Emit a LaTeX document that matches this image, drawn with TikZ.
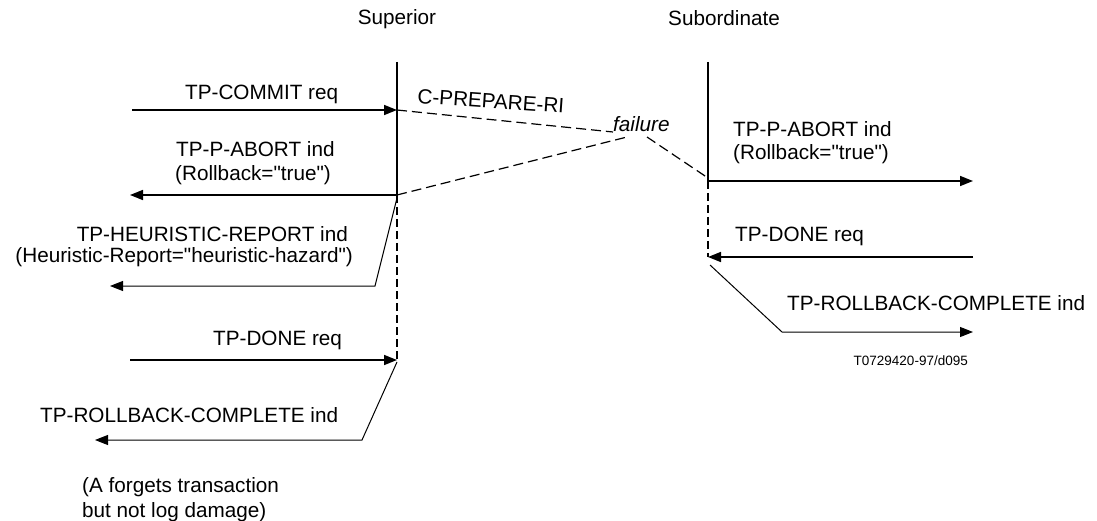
\documentclass[tikz,border=0pt]{standalone}
\usepackage{fontspec}
\setmainfont{Liberation Sans}[Ligatures=TeXOff]
\usetikzlibrary{arrows.meta}
\begin{document}
\begin{tikzpicture}[x=1pt,y=-1pt,
  lbl/.style={inner sep=0pt, font=\fontsize{20.7}{24}\selectfont},
  small/.style={inner sep=0pt, font=\fontsize{13.5}{16}\selectfont},
  msg/.style={line width=1.6pt, -{Triangle[length=13pt,width=10pt]}},
  thinmsg/.style={line width=1pt, -{Triangle[length=13pt,width=10pt]}},
  life/.style={line width=1.2pt},
  dlife/.style={line width=2pt, dash pattern=on 8pt off 4pt},
  lost/.style={line width=1.2pt, dash pattern=on 10pt off 5pt}]
\useasboundingbox (0,0) rectangle (1097,521);

% lifeline coordinates
\coordinate (S0) at (397,62);
\coordinate (S1) at (397,110);
\coordinate (S2) at (397,195);
\coordinate (S2b) at (397,198);
\coordinate (S3) at (397,360);
\coordinate (S3b) at (397,362);
\coordinate (B0) at (708,62);
\coordinate (B1) at (708,181);
\coordinate (B2) at (708,257);
\coordinate (B2b) at (710,265);

% free ends
\coordinate (cL) at (132,110);
\coordinate (aL) at (130,195);
\coordinate (hK) at (375,286);
\coordinate (hL) at (110,286);
\coordinate (dL) at (130,360);
\coordinate (rK) at (362,440);
\coordinate (rL) at (95,440);
\coordinate (aR) at (973,181);
\coordinate (dR) at (973,257);
\coordinate (rK2) at (782,332);
\coordinate (rR) at (973,332);
\coordinate (f1) at (613,132);
\coordinate (f2) at (627,137);
\coordinate (f3) at (647,137);
\coordinate (f4) at (708,178);

% lifelines
\draw[life] (S0) -- (S2);
\draw[dlife] (S2) -- (S3);
\draw[life] (B0) -- (B1);
\draw[dlife] (B1) -- (B2);

% titles
\node[lbl, anchor=base] (sup) at (397,25) {Superior};
\node[lbl, anchor=base west] (sub) at (668,26) {Subordinate};

% left side
\draw[msg] (cL) -- (S1);
\node[lbl, anchor=base west] (t1) at (185,100) {TP-COMMIT req};
\draw[msg] (S2) -- (aL);
\node[lbl, anchor=base west] (t2) at (176,157) {TP-P-ABORT ind};
\node[lbl, anchor=base west] (t2b) at (175,181) {(Rollback="true")};
\draw[thinmsg] (S2b) -- (hK) -- (hL);
\node[lbl, anchor=base east] (t3) at (348,242) {TP-HEURISTIC-REPORT ind};
\node[lbl, anchor=base east] (t3b) at (353,263) {(Heuristic-Report="heuristic-hazard")};
\draw[msg] (dL) -- (S3);
\node[lbl, anchor=base west] (t4) at (213,345) {TP-DONE req};
\draw[thinmsg] (S3b) -- (rK) -- (rL);
\node[lbl, anchor=base west] (t5) at (40,422) {TP-ROLLBACK-COMPLETE ind};
\node[lbl, anchor=base west] (t6) at (82,492) {(A forgets transaction};
\node[lbl, anchor=base west] (t6b) at (82,517) {but not log damage)};

% lost messages
\draw[lost] (S1) -- (f1);
\draw[lost] (S2) -- (f2);
\draw[lost] (f3) -- (f4);
\node[lbl, anchor=base west, rotate=-4] (prep) at (417,103) {C-PREPARE-RI};
\node[lbl, anchor=base west, font=\fontsize{20.7}{24}\selectfont\itshape] (fail) at (613,132) {failure};

% right side
\draw[msg] (B1) -- (aR);
\node[lbl, anchor=base west] (r1) at (733,137) {TP-P-ABORT ind};
\node[lbl, anchor=base west] (r1b) at (733,160) {(Rollback="true")};
\draw[msg] (dR) -- (B2);
\node[lbl, anchor=base west] (r2) at (735,242) {TP-DONE req};
\draw[thinmsg] (B2b) -- (rK2) -- (rR);
\node[lbl, anchor=base west] (r3) at (787,310) {TP-ROLLBACK-COMPLETE ind};
\node[small, anchor=base east] (ref) at (968,365) {T0729420-97/d095};
\end{tikzpicture}
\end{document}
